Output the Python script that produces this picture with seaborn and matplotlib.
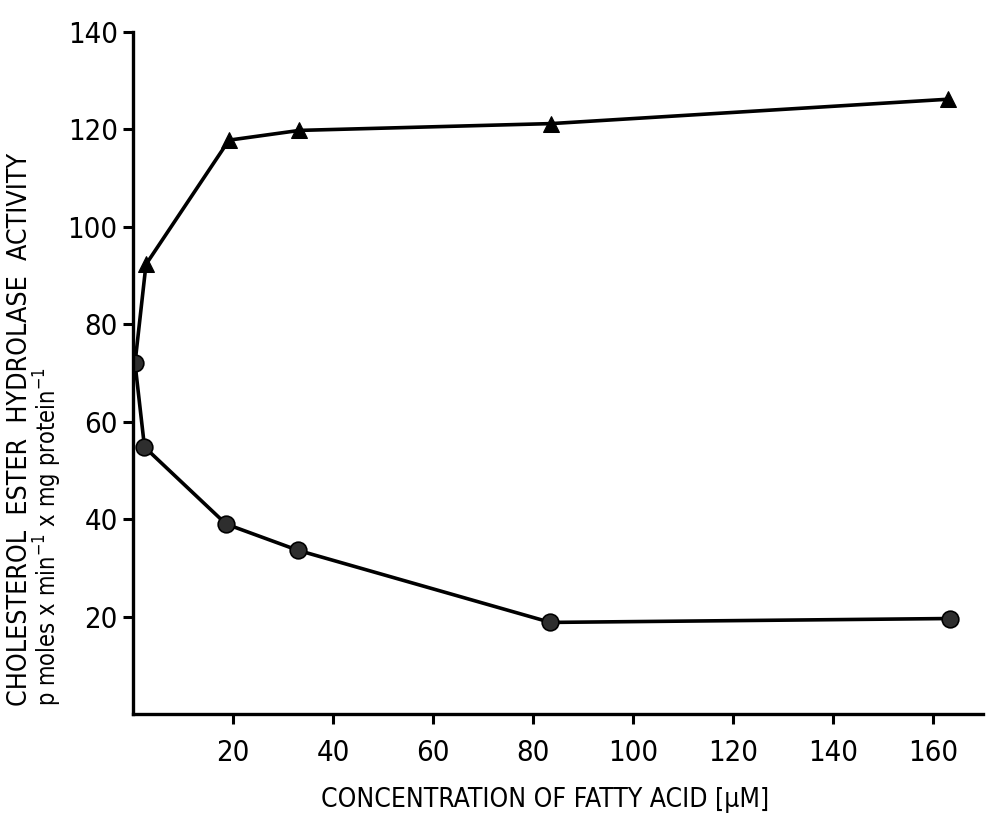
import matplotlib
matplotlib.use("Agg")
import matplotlib.pyplot as plt
import seaborn as sns
import pandas as pd

# Data
control_x = 0.4
control_y = 72.0
tri_x = [2.6, 19.2, 33.3, 83.7, 163.0]
tri_y = [92.3, 117.8, 119.8, 121.2, 126.2]
circ_x = [2.3, 18.6, 33.0, 83.5, 163.4]
circ_y = [54.8, 39.0, 33.6, 18.8, 19.6]

xticks = [20, 40, 60, 80, 100, 120, 140, 160]
yticks = [20, 40, 60, 80, 100, 120, 140]

sns.set_theme(style="ticks")
plt.rcParams['font.family'] = ['DejaVu Sans']
plt.rcParams['font.stretch'] = 'condensed'

fig = plt.figure(figsize=(9.87, 8.3), dpi=100)
ax = fig.add_axes([133/987, (830-714)/830, (983-133)/987, (714-32)/830])

df_tri = pd.DataFrame({"x": [control_x] + tri_x, "y": [control_y] + tri_y})
df_circ = pd.DataFrame({"x": [control_x] + circ_x, "y": [control_y] + circ_y})

sns.lineplot(data=df_tri, x="x", y="y", sort=False, ax=ax, color="black",
             linewidth=2.6, marker="^", markersize=12, markevery=[1, 2, 3, 4, 5],
             markerfacecolor="black", markeredgecolor="black")
sns.lineplot(data=df_circ, x="x", y="y", sort=False, ax=ax, color="black",
             linewidth=2.6, marker="o", markersize=12,
             markerfacecolor="#2e2e2e", markeredgecolor="black", markeredgewidth=1.2)

ax.set_xlim(0, 170)
ax.set_ylim(0, 140)
ax.set_xticks(xticks)
ax.set_yticks(yticks)
ax.set_xticklabels([str(t) for t in xticks], fontsize=21)
ax.set_yticklabels([str(t) for t in yticks], fontsize=21)
ax.tick_params(axis="both", direction="out", length=7, width=2.2, color="black",
               labelcolor="black")
ax.tick_params(axis="x", pad=11)
ax.tick_params(axis="y", pad=4)

for s in ["top", "right"]:
    ax.spines[s].set_visible(False)
for s in ["left", "bottom"]:
    ax.spines[s].set_linewidth(2.4)
    ax.spines[s].set_color("black")

ax.set_xlabel("")
ax.set_ylabel("")

fig.text(545/987, (830-800)/830, "CONCENTRATION OF FATTY ACID [\u03bcM]",
         ha="center", va="center", fontsize=19, color="black")
fig.text(20/987, (830-706)/830, "CHOLESTEROL  ESTER  HYDROLASE  ACTIVITY",
         rotation=90, ha="center", va="bottom", fontsize=19.2, color="black")
fig.text(48/987, (830-706)/830, r"p moles x min$^{-1}$ x mg protein$^{-1}$",
         rotation=90, ha="center", va="bottom", fontsize=17, color="black")

fig.savefig("out.png", dpi=100, facecolor="white")
